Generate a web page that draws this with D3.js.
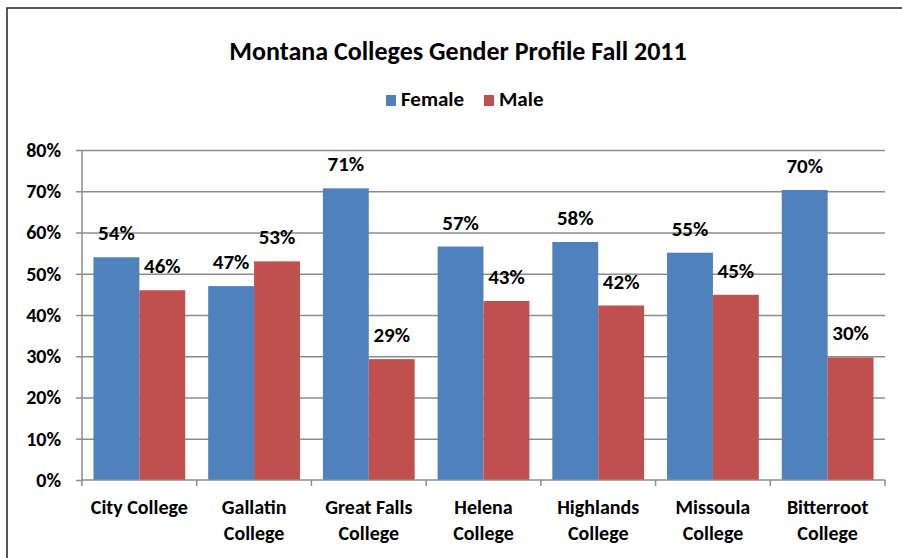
<!DOCTYPE html>
<html>
<head>
<meta charset="utf-8">
<script src="https://cdn.jsdelivr.net/npm/d3@7"></script>
<style>
  body { margin: 0; background: #fff; }
  svg text { font-family: Carlito, Lato, "Open Sans", sans-serif; font-weight: bold; fill: #000; }
  .grid line { stroke: #8c8c8c; stroke-width: 1.5; }
  .axis path, .axis line { stroke: #8c8c8c; stroke-width: 1.5; }
</style>
</head>
<body>
<div id="chart"></div>
<script>
const colleges = [
  ['City College'],
  ['Gallatin', 'College'],
  ['Great Falls', 'College'],
  ['Helena', 'College'],
  ['Highlands', 'College'],
  ['Missoula', 'College'],
  ['Bitterroot', 'College']
];
const female = [54.0, 47.0, 70.7, 56.6, 57.7, 55.1, 70.3];
const male = [46.0, 53.0, 29.3, 43.4, 42.3, 44.9, 29.7];
const seriesNames = ['Female', 'Male'];
const yTicks = [0, 10, 20, 30, 40, 50, 60, 70, 80];

const colors = { Female: '#4f81bd', Male: '#c0504d' };
const width = 902, height = 558;
const margin = { top: 150, right: 17, bottom: 78, left: 82 };
const chartWidth = width - margin.left - margin.right;
const chartHeight = height - margin.top - margin.bottom;

const data = colleges.map((c, i) => ({ key: c.join(' '), lines: c, Female: female[i], Male: male[i] }));

const svg = d3.select('#chart').append('svg')
  .attr('width', width)
  .attr('height', height);

// outer frame, running off the right and bottom edges
svg.append('rect')
  .attr('x', 7).attr('y', 8)
  .attr('width', width).attr('height', height)
  .attr('fill', 'none')
  .attr('stroke', '#222')
  .attr('stroke-width', 1.5);

svg.append('text')
  .attr('x', 458).attr('y', 60)
  .attr('text-anchor', 'middle')
  .style('font-size', '26px')
  .text('Montana Colleges Gender Profile Fall 2011');

// legend
const legend = svg.append('g').attr('class', 'legend');
const legendX = [386, 484];
seriesNames.forEach((name, i) => {
  legend.append('rect')
    .attr('x', legendX[i]).attr('y', 95)
    .attr('width', 10).attr('height', 11)
    .attr('fill', colors[name]);
  legend.append('text')
    .attr('x', legendX[i] + 15).attr('y', 106)
    .style('font-size', '21px')
    .text(name);
});

const chart = svg.append('g')
  .attr('transform', `translate(${ margin.left }, ${ margin.top })`);

const xScale = d3.scaleBand()
  .domain(data.map((d) => { return d.key }))
  .range([0, chartWidth])
  .paddingInner(0.2)
  .paddingOuter(0.1);

const xInner = d3.scaleBand()
  .domain(seriesNames)
  .range([0, xScale.bandwidth()]);

const yScale = d3.scaleLinear()
  .domain([0, 80])
  .range([chartHeight, 0]);

// gridlines
chart.append('g')
  .attr('class', 'grid')
  .call(d3.axisLeft(yScale).tickValues(yTicks.slice(1)).tickSize(-chartWidth).tickFormat(''))
  .call((g) => g.select('.domain').remove());

// y axis
const yAxis = chart.append('g')
  .attr('class', 'axis')
  .call(d3.axisLeft(yScale).tickValues(yTicks).tickSize(6).tickPadding(15)
    .tickFormat((d) => { return d + '%' }));
yAxis.select('.domain').attr('d', `M0,0V${ chartHeight }`);
yAxis.selectAll('text').style('font-size', '20px');

// bars
const groups = chart.append('g').attr('class', 'g-chart-bars')
  .selectAll('g')
  .data(data)
  .enter()
  .append('g')
    .attr('transform', (d) => { return `translate(${ xScale(d.key) }, 0)` });

groups.selectAll('rect')
  .data((d) => { return seriesNames.map((s) => ({ series: s, value: d[s] })) })
  .enter()
  .append('rect')
    .attr('x', (d) => { return xInner(d.series) })
    .attr('y', (d) => { return yScale(d.value) })
    .attr('width', xInner.bandwidth())
    .attr('height', (d) => { return yScale(0) - yScale(d.value) })
    .attr('fill', (d) => { return colors[d.series] });

groups.selectAll('text')
  .data((d) => { return seriesNames.map((s) => ({ series: s, value: d[s] })) })
  .enter()
  .append('text')
    .attr('x', (d) => { return xInner(d.series) + xInner.bandwidth() / 2 })
    .attr('y', (d) => { return yScale(d.value) - 17 })
    .attr('text-anchor', 'middle')
    .style('font-size', '21px')
    .text((d) => { return Math.round(d.value) + '%' });

// x axis with ticks on the category boundaries
const xAxis = chart.append('g')
  .attr('class', 'axis')
  .attr('transform', `translate(0, ${ chartHeight })`);
xAxis.append('path').attr('d', `M0,0H${ chartWidth }`);
xAxis.selectAll('.bound')
  .data(d3.range(data.length + 1))
  .enter()
  .append('line')
    .attr('x1', (i) => { return i * xScale.step() })
    .attr('x2', (i) => { return i * xScale.step() })
    .attr('y1', 0).attr('y2', 6);

const xLabels = chart.append('g').attr('class', 'x-labels')
  .selectAll('text')
  .data(data)
  .enter()
  .append('text')
    .attr('text-anchor', 'middle')
    .attr('transform', (d) => { return `translate(${ xScale(d.key) + xScale.bandwidth() / 2 }, ${ chartHeight + 34 })` })
    .style('font-size', '20px');

xLabels.selectAll('tspan')
  .data((d) => { return d.lines })
  .enter()
  .append('tspan')
    .attr('x', 0)
    .attr('dy', (d, i) => { return i === 0 ? 0 : 26 })
    .text((d) => { return d });
</script>
</body>
</html>
